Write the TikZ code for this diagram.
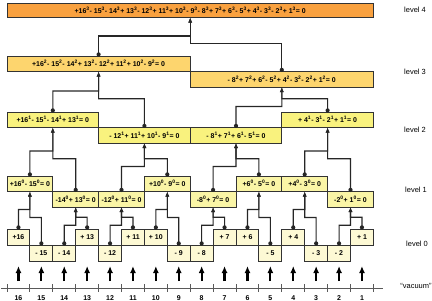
\documentclass[tikz,border=0pt]{standalone}
\usepackage{fontspec}
\setmainfont{Liberation Sans}
\usetikzlibrary{arrows.meta, positioning, calc}

\definecolor{lvfour}{HTML}{F9A13F}
\definecolor{lvthree}{HTML}{FDD56E}
\definecolor{lvtwo}{HTML}{F9F27E}
\definecolor{lvone}{HTML}{FAF5A6}
\definecolor{lvzero}{HTML}{FDF9D4}
\definecolor{boxline}{HTML}{333333}
\definecolor{linkgray}{HTML}{262626}

\newcommand{\pw}[1]{\textsuperscript{#1}}

\begin{document}
\begin{tikzpicture}[
    x=1bp, y=-1bp,
    box/.style={draw=boxline, line width=1bp, outer sep=0pt, inner sep=0pt, minimum height=15.5bp, font=\bfseries\fontsize{7}{8}\selectfont},
    zero/.style={box, fill=lvzero, minimum width=22.9bp, minimum height=16bp},
    one/.style={box, fill=lvone, minimum width=45.8bp},
    two/.style={box, fill=lvtwo, minimum width=91.6bp},
    three/.style={box, fill=lvthree, minimum width=183.2bp},
    four/.style={box, fill=lvfour, minimum width=366.4bp, minimum height=14.5bp},
    link/.style={draw=linkgray, line width=1.1bp, -{Latex[length=5bp,width=4bp]},
        to path={-- ($(\tikztostart)!.5!(\tikztostart|-\tikztotarget)$) -| (\tikztotarget) \tikztonodes}},
    dot/.style={fill=linkgray},
    feed/.style={draw=black, line width=2.2bp, -{Latex[length=7bp,width=6bp]}},
    axis/.style={draw=black!65, line width=1bp},
    lvl/.style={font=\fontsize{7.5}{8}\selectfont},
    num/.style={font=\bfseries\fontsize{7}{8}\selectfont}
]
\useasboundingbox (0,0) rectangle (432,301);

% level 0
\node (n16) [zero, anchor=north west] at (7,229) {+16};
\node (n15) [zero, below right=0pt and 0pt of n16.south east] {- 15};
\node (n14) [zero, right=0pt of n15] {- 14};
\node (n13) [zero, above right=0pt and 0pt of n14.north east] {+ 13};
\node (n12) [zero, below right=0pt and 0pt of n13.south east] {- 12};
\node (n11) [zero, above right=0pt and 0pt of n12.north east] {+ 11};
\node (n10) [zero, right=0pt of n11] {+ 10};
\node (n9) [zero, below right=0pt and 0pt of n10.south east] {- 9};
\node (n8) [zero, right=0pt of n9] {- 8};
\node (n7) [zero, above right=0pt and 0pt of n8.north east] {+ 7};
\node (n6) [zero, right=0pt of n7] {+ 6};
\node (n5) [zero, below right=0pt and 0pt of n6.south east] {- 5};
\node (n4) [zero, above right=0pt and 0pt of n5.north east] {+ 4};
\node (n3) [zero, below right=0pt and 0pt of n4.south east] {- 3};
\node (n2) [zero, right=0pt of n3] {- 2};
\node (n1) [zero, above right=0pt and 0pt of n2.north east] {+ 1};

% level 1
\node (a16) [one, anchor=north west] at (7,176) {+16\pw{0}- 15\pw{0}= 0};
\node (a14) [one, below right=0pt and 0pt of a16.south east] {-14\pw{0}+ 13\pw{0}= 0};
\node (a12) [one, right=0pt of a14] {-12\pw{0}+ 11\pw{0}= 0};
\node (a10) [one, above right=0pt and 0pt of a12.north east] {+10\pw{0}- 9\pw{0}= 0};
\node (a8) [one, below right=0pt and 0pt of a10.south east] {-8\pw{0}+ 7\pw{0}= 0};
\node (a6) [one, above right=0pt and 0pt of a8.north east] {+6\pw{0}- 5\pw{0}= 0};
\node (a4) [one, right=0pt of a6] {+4\pw{0}- 3\pw{0}= 0};
\node (a2) [one, below right=0pt and 0pt of a4.south east] {-2\pw{0}+ 1\pw{0}= 0};

% level 2
\node (b16) [two, anchor=north west] at (7,112) {+16\pw{1}- 15\pw{1}- 14\pw{1}+ 13\pw{1}= 0};
\node (b12) [two, below right=0pt and 0pt of b16.south east] {- 12\pw{1}+ 11\pw{1}+ 10\pw{1}- 9\pw{1}= 0};
\node (b8) [two, right=0pt of b12] {- 8\pw{1}+ 7\pw{1}+ 6\pw{1}- 5\pw{1}= 0};
\node (b4) [two, above right=0pt and 0pt of b8.north east] {+ 4\pw{1}- 3\pw{1}- 2\pw{1}+ 1\pw{1}= 0};

% level 3
\node (c16) [three, anchor=north west] at (7,56) {+16\pw{2}- 15\pw{2}- 14\pw{2}+ 13\pw{2}- 12\pw{2}+ 11\pw{2}+ 10\pw{2}- 9\pw{2}= 0};
\node (c8) [three, below right=0pt and 0pt of c16.south east] {- 8\pw{2}+ 7\pw{2}+ 6\pw{2}- 5\pw{2}+ 4\pw{2}- 3\pw{2}- 2\pw{2}+ 1\pw{2}= 0};

% level 4
\node (d16) [four, anchor=north west] at (7,3) {+16\pw{3}- 15\pw{3}- 14\pw{3}+ 13\pw{3}- 12\pw{3}+ 11\pw{3}+ 10\pw{3}- 9\pw{3}- 8\pw{3}+ 7\pw{3}+ 6\pw{3}- 5\pw{3}+ 4\pw{3}- 3\pw{3}- 2\pw{3}+ 1\pw{3}= 0};

% Uniones
\foreach \c/\p in {n16/a16, n15/a16, n14/a14, n13/a14, n12/a12, n11/a12, n10/a10, n9/a10,
    n8/a8, n7/a8, n6/a6, n5/a6, n4/a4, n3/a4, n2/a2, n1/a2,
    a16/b16, a14/b16, a12/b12, a10/b12, a8/b8, a6/b8, a4/b4, a2/b4,
    b16/c16, b12/c16, b8/c8, b4/c8, c16/d16, c8/d16} {
    \draw [link] ([yshift=1.6bp]\c.north) to (\p.south);
    \fill [dot] ([yshift=1.6bp]\c.north) circle (2.1bp);
}

% Vacio
\coordinate (axl) at (1,288);
\coordinate (axr) at (383,288);
\draw [axis] (axl) -- (axr);
\foreach \n in {16,...,1} {
    \node (x\n) [num] at (n\n |- 0,298) {\n};
    \coordinate (f\n) at (n\n |- 0,281);
    \coordinate (g\n) at (n\n |- 0,266);
    \draw [feed] (f\n) -- (g\n);
    \coordinate (tb\n) at (n\n.west |- 0,284);
    \coordinate (tt\n) at (n\n.west |- 0,292);
    \draw [axis] (tb\n) -- (tt\n);
}
\coordinate (tb0) at (n1.east |- 0,284);
\coordinate (tt0) at (n1.east |- 0,292);
\draw [axis] (tb0) -- (tt0);

% Niveles
\node (lab4) [lvl] at (415,10) {level 4};
\node (lab3) [lvl] at (415,72) {level 3};
\node (lab2) [lvl] at (415,130) {level 2};
\node (lab1) [lvl] at (416,190) {level 1};
\node (lab0) [lvl] at (417,244) {level 0};
\node (vac) [lvl] at (416,286) {“vacuum”};

\end{tikzpicture}
\end{document}
